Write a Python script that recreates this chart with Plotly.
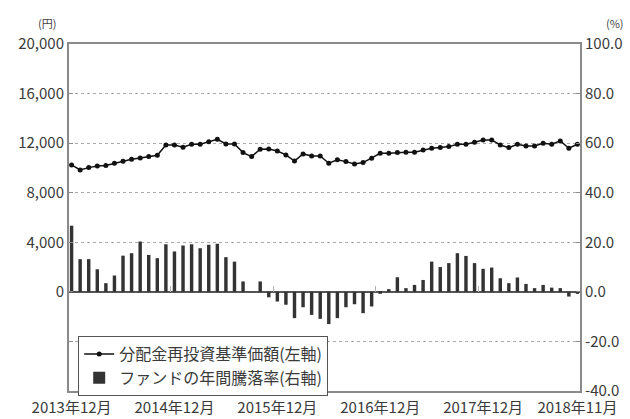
import plotly.graph_objects as go
import pandas as pd

months = [p.strftime("%Y-%m") for p in pd.period_range("2013-12", "2018-11", freq="M")]

nav = [10240, 9840, 10025, 10160, 10190, 10380, 10540, 10700, 10800, 10915,
       11020, 11850, 11850, 11670, 11910, 11910, 12120, 12310, 11940, 11940,
       11240, 10915, 11510, 11530, 11370, 11050, 10560, 11130, 10970, 10970,
       10380, 10650, 10510, 10320, 10430, 10780, 11180, 11180, 11240, 11260,
       11260, 11450, 11590, 11640, 11720, 11910, 11910, 12070, 12260, 12260,
       11850, 11640, 11910, 11770, 11770, 11990, 11910, 12180, 11590, 11910]

ret = [26.7, 13.2, 13.2, 9.1, 3.5, 6.6, 14.6, 15.6, 20.3, 14.9,
       13.6, 19.2, 16.3, 18.7, 19.2, 17.6, 19.0, 19.4, 14.0, 12.2,
       4.2, 0.0, 4.2, -2.2, -3.9, -5.2, -10.6, -6.2, -9.3, -10.9,
       -13.0, -10.6, -6.2, -5.0, -8.6, -5.9, -0.8, 1.1, 5.9, 1.5,
       2.8, 4.8, 12.2, 10.0, 11.6, 15.6, 14.5, 11.6, 9.3, 9.8,
       5.5, 3.5, 5.8, 3.2, 1.5, 2.8, 1.7, 1.5, -1.9, -0.8]

xtick_vals = ["2013-12", "2014-12", "2015-12", "2016-12", "2017-12", "2018-11"]
xtick_text = ["2013年12月", "2014年12月", "2015年12月", "2016年12月", "2017年12月", "2018年11月"]
year_breaks = [11.5, 23.5, 35.5, 47.5]

left_vals = [-8000, -4000, 0, 4000, 8000, 12000, 16000, 20000]
left_text = ["", "", "0", "4,000", "8,000", "12,000", "16,000", "20,000"]
right_vals = [-40, -20, 0, 20, 40, 60, 80, 100]
right_text = ["-40.0", "-20.0", "0.0", "20.0", "40.0", "60.0", "80.0", "100.0"]

FONT = "Noto Sans CJK JP"
BORDER = "#8a8a8a"
TXT = "#3a3a3a"
XRANGE = [-0.3, 59.3]
YL = [-8000, 20000]

fig = go.Figure()
fig.add_trace(go.Scatter(
    x=months, y=nav, name="分配金再投資基準価額(左軸)", mode="lines+markers",
    line=dict(color="#111111", width=1.5), marker=dict(size=5, color="#111111"),
    yaxis="y"))
fig.add_trace(go.Bar(
    x=months, y=ret, name="ファンドの年間騰落率(右軸)",
    marker=dict(color="#333333", line=dict(width=0)), yaxis="y2"))
# carrier (no visible marks) so the year-boundary tick axis is drawn
fig.add_trace(go.Scatter(x=[None], y=[None], xaxis="x2", yaxis="y",
                         showlegend=False, hoverinfo="skip", mode="markers"))

fig.update_layout(
    width=630, height=419,
    margin=dict(l=69, r=50, t=44, b=28, autoexpand=False),
    paper_bgcolor="white", plot_bgcolor="white",
    font=dict(family=FONT, size=14, color=TXT),
    bargap=0.6,
    showlegend=True,
    legend=dict(x=0.018, y=0.158, xanchor="left", yanchor="top",
                bgcolor="white", bordercolor="#555555", borderwidth=1,
                font=dict(size=16, color=TXT), tracegroupgap=0,
                itemwidth=30),
    xaxis=dict(type="category", range=XRANGE, automargin=False,
               tickmode="array", tickvals=xtick_vals, ticktext=xtick_text,
               showgrid=False, ticks="", showline=True, mirror=True,
               linecolor=BORDER, linewidth=2, tickfont=dict(size=15, color=TXT),
               ticklabelstandoff=2, zeroline=False),
    xaxis2=dict(type="linear", range=XRANGE, overlaying="x", anchor="free",
                position=(0 - YL[0]) / (YL[1] - YL[0]), side="bottom",
                tickmode="array", tickvals=year_breaks, ticks="inside", ticklen=6,
                tickcolor="#b0b0b0", tickwidth=1, showticklabels=False,
                showline=False, showgrid=False, zeroline=False, automargin=False),
    yaxis=dict(range=YL, tickmode="array", tickvals=left_vals, ticktext=left_text,
               automargin=False,
               showgrid=True, gridcolor="#aaaaaa", griddash="dot", gridwidth=1,
               zeroline=True, zerolinecolor="#555555", zerolinewidth=1.5,
               ticks="inside", ticklen=4, tickcolor=BORDER,
               showline=True, mirror=True, linecolor=BORDER, linewidth=2,
               tickfont=dict(size=15, color=TXT)),
    yaxis2=dict(range=[-40, 100], overlaying="y", side="right", automargin=False,
                tickmode="array", tickvals=right_vals, ticktext=right_text,
                showgrid=False, zeroline=False,
                ticks="inside", ticklen=4, tickcolor=BORDER,
                showline=True, linecolor=BORDER, linewidth=2,
                tickfont=dict(size=15, color=TXT)),
    annotations=[
        dict(text="(円)", xref="paper", yref="paper", x=-0.043, y=1.0, yshift=21,
             xanchor="center", yanchor="middle", showarrow=False,
             font=dict(size=11, color="#444444")),
        dict(text="(%)", xref="paper", yref="paper", x=1.068, y=1.0, yshift=21,
             xanchor="center", yanchor="middle", showarrow=False,
             font=dict(size=11, color="#444444")),
    ],
)

fig.write_html("out.html", config={"displayModeBar": False},
               post_script="document.body.style.margin='0';document.body.style.overflow='hidden';")
